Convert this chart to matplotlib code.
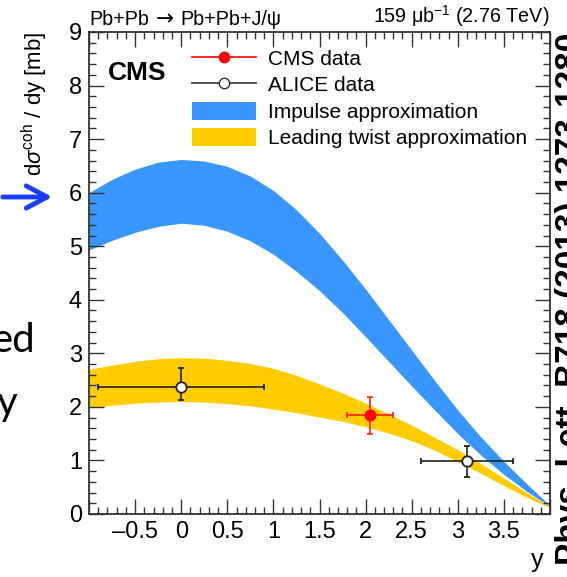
import matplotlib
matplotlib.use("Agg")
import matplotlib.pyplot as plt
from matplotlib.lines import Line2D
from matplotlib.patches import Patch, FancyArrowPatch
from matplotlib.ticker import MultipleLocator, FuncFormatter

plt.rcParams['font.family'] = ['Liberation Sans', 'DejaVu Sans']
plt.rcParams['mathtext.fontset'] = 'custom'
plt.rcParams['mathtext.rm'] = 'Liberation Sans'
plt.rcParams['mathtext.it'] = 'Liberation Sans:italic'

# rapidity grid for the theory bands
band_y = [-1.0, -0.75, -0.5, -0.25, 0.0, 0.25, 0.5, 0.75, 1.0, 1.25, 1.5,
          1.75, 2.0, 2.25, 2.5, 2.75, 3.0, 3.25, 3.5, 3.75, 4.0]
# impulse approximation (blue)
ia_hi = [6.00, 6.25, 6.44, 6.57, 6.62, 6.59, 6.49, 6.31, 6.04, 5.68, 5.24,
         4.74, 4.20, 3.63, 3.06, 2.49, 1.94, 1.44, 0.98, 0.56, 0.16]
ia_lo = [4.93, 5.11, 5.26, 5.37, 5.43, 5.39, 5.28, 5.10, 4.85, 4.53, 4.17,
         3.76, 3.31, 2.85, 2.39, 1.94, 1.50, 1.10, 0.74, 0.42, 0.14]
# leading twist approximation (yellow)
lt_hi = [2.70, 2.78, 2.85, 2.90, 2.92, 2.91, 2.87, 2.81, 2.72, 2.59, 2.43,
         2.26, 2.07, 1.87, 1.66, 1.43, 1.20, 0.94, 0.67, 0.40, 0.14]
lt_lo = [1.98, 2.03, 2.07, 2.09, 2.10, 2.09, 2.06, 2.02, 1.96, 1.89, 1.81,
         1.73, 1.63, 1.51, 1.37, 1.19, 0.98, 0.76, 0.53, 0.31, 0.12]

# data points
cms_y = [2.05]
cms_val = [1.84]
cms_xerr = [0.25]
cms_err_lo = [0.35]
cms_err_hi = [0.34]

alice_y = [0.0, 3.1]
alice_val = [2.38, 0.99]
alice_xerr = [0.9, 0.5]
alice_err_lo = [0.26, 0.29]
alice_err_hi = [0.34, 0.28]

blue = '#3a96ff'
yellow = '#ffcc00'

fig = plt.figure(figsize=(5.67, 5.77), dpi=100)
ax = fig.add_axes([89 / 567, 63 / 577, 461 / 567, 482 / 577])

ax.fill_between(band_y, ia_lo, ia_hi, color=blue, lw=0)
ax.fill_between(band_y, lt_lo, lt_hi, color=yellow, lw=0)

ax.errorbar(alice_y, alice_val, xerr=alice_xerr, yerr=[alice_err_lo, alice_err_hi],
            fmt='o', ms=7.5, mfc='white', mec='#222222', mew=1.3, ecolor='#222222',
            elinewidth=1.2, capsize=2.5, capthick=1.2, zorder=5)
ax.errorbar(cms_y, cms_val, xerr=cms_xerr, yerr=[cms_err_lo, cms_err_hi],
            fmt='o', ms=7.5, color='#ff0000', ecolor='#ff2000',
            elinewidth=1.2, capsize=2.5, capthick=1.2, zorder=6)

ax.set_xlim(-1, 4)
ax.set_ylim(0, 9)
ax.xaxis.set_major_locator(MultipleLocator(0.5))
ax.xaxis.set_minor_locator(MultipleLocator(0.1))
ax.yaxis.set_major_locator(MultipleLocator(1))
ax.yaxis.set_minor_locator(MultipleLocator(0.2))


def xfmt(v, pos):
    if v < -0.75 or v > 3.75:
        return ''
    if abs(v - round(v)) < 1e-6:
        return '%d' % round(v) if abs(v) > 1e-6 else '0'
    return ('%.1f' % v).replace('-', '\u2013')


ax.xaxis.set_major_formatter(FuncFormatter(xfmt))
ax.tick_params(which='both', direction='in', top=True, right=True,
               color='#333333', width=1.0)
ax.tick_params(which='major', length=10.5, labelsize=17)
ax.tick_params(which='minor', length=5)
ax.tick_params(axis='x', pad=5)
ax.tick_params(axis='y', pad=5)
for s in ax.spines.values():
    s.set_linewidth(1.3)
    s.set_color('#333333')

ax.set_ylabel(r'd$\sigma^{\rm coh}$ / dy [mb]', fontsize=16, loc='top')
ax.yaxis.set_label_coords(-0.117, 1.0)
ax.yaxis.label.set_va('center')
ax.set_xlabel('y', fontsize=18)
ax.xaxis.set_label_coords(0.985, -0.07)
ax.xaxis.label.set_ha('right')
ax.xaxis.label.set_va('top')

ax.text(0.04, 0.915, 'CMS', transform=ax.transAxes, fontsize=19,
        fontweight='bold', va='center')
t1 = ax.text(0.0, 1.006, 'Pb+Pb', transform=ax.transAxes,
             fontsize=14.2, va='bottom')
t2 = ax.annotate('\u2192', xy=(1, 0), xycoords=t1, xytext=(5, 0),
                 textcoords='offset points', fontsize=15.5, va='bottom',
                 family='DejaVu Sans')
ax.annotate('Pb+Pb+J/\u03c8', xy=(1, 0), xycoords=t2, xytext=(5, 0),
            textcoords='offset points', fontsize=14.2, va='bottom')
ax.text(1.0, 1.006, '159 \u03bcb$^{\\mathregular{-1}}$ (2.76 TeV)', transform=ax.transAxes,
        fontsize=14.2, va='bottom', ha='right')

handles = [
    Line2D([], [], color='#ff0000', marker='o', ms=7.5, lw=1.2),
    Line2D([], [], color='#333333', marker='o', ms=7.5, mfc='white', lw=1.2),
    Patch(facecolor=blue, edgecolor='none'),
    Patch(facecolor=yellow, edgecolor='none'),
]
labels = ['CMS data', 'ALICE data', 'Impulse approximation',
          'Leading twist approximation']
ax.legend(handles, labels, loc='upper left', bbox_to_anchor=(0.223, 0.965),
          frameon=False, fontsize=15, borderpad=0, borderaxespad=0,
          handlelength=3.1, handleheight=0.95, handletextpad=0.58,
          labelspacing=0.30)

# slide fragments around the figure
fig.text(35 / 567, 1 - 340 / 577, 'ed', fontsize=29, family=['Lato', 'DejaVu Sans'],
         ha='right', va='center')
fig.text(17 / 567, 1 - 403 / 577, 'y', fontsize=29, family=['Lato', 'DejaVu Sans'],
         ha='right', va='center')
fig.text(555 / 567, 1 - 565 / 577, 'Phys. Lett. B718 (2013) 1273-1280', fontsize=24,
         fontweight='bold', rotation=90, ha='left', va='bottom')
fig.patches.append(FancyArrowPatch(
    (0.0, 1 - 197 / 577), (55 / 567, 1 - 197 / 577), transform=fig.transFigure,
    arrowstyle='->,head_length=15,head_width=8', color='#1a3dff', lw=3.5,
    mutation_scale=1))

fig.savefig('out.png', dpi=100)
